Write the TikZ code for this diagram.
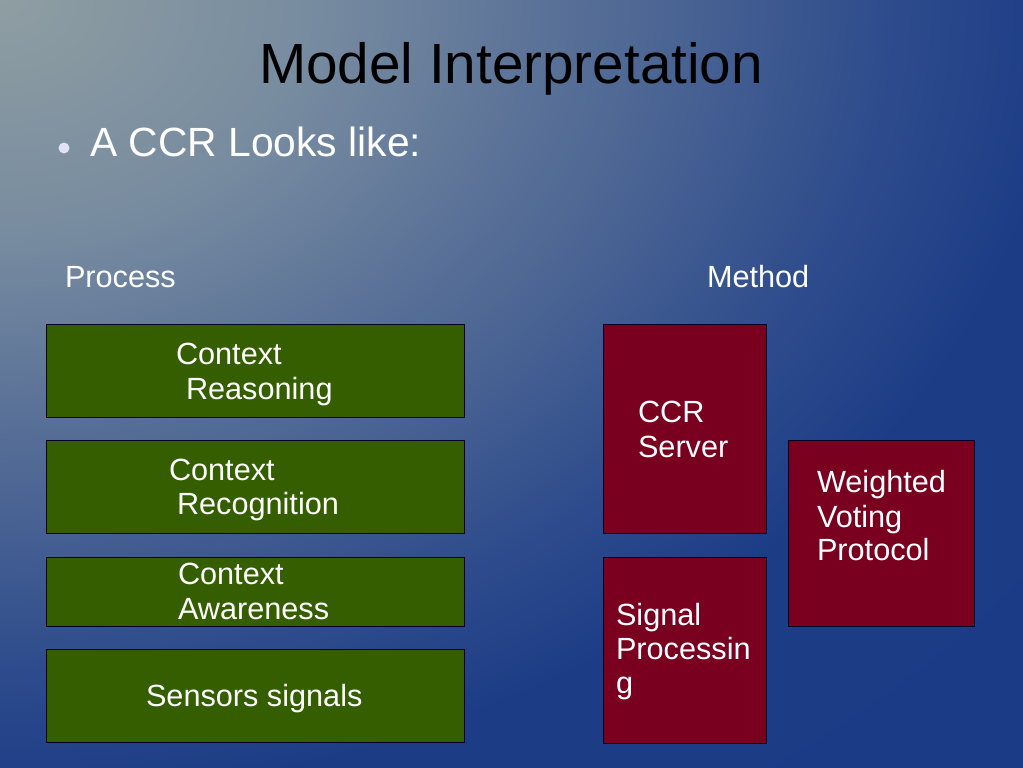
\documentclass[tikz,border=0pt]{standalone}
\usepackage{fontspec}
\setmainfont{Liberation Sans}
\usetikzlibrary{fit}
\definecolor{bgA}{RGB}{143,158,162}
\definecolor{bgB}{RGB}{120,140,160}
\definecolor{bgC}{RGB}{78,103,148}
\definecolor{bgD}{RGB}{45,75,140}
\definecolor{bgE}{RGB}{28,60,134}
\definecolor{bgF}{RGB}{24,56,132}
\definecolor{boxgreen}{RGB}{52,94,0}
\definecolor{boxred}{RGB}{122,0,32}
\definecolor{bulletcol}{RGB}{225,225,245}
\pgfdeclareradialshading{bgshade}{\pgfpoint{0bp}{0bp}}{color(0bp)=(bgA); color(5.5bp)=(bgB); color(11.5bp)=(bgC); color(16bp)=(bgD); color(19bp)=(bgE); color(50bp)=(bgF)}
\tikzset{
  gbox/.style={draw=black!85!blue, line width=0.7pt, fill=boxgreen, inner sep=0pt, outer sep=0pt},
  rbox/.style={draw=black!85!blue, line width=0.7pt, fill=boxred, inner sep=0pt, outer sep=0pt},
  lbl/.style={anchor=base west, inner sep=0pt, outer sep=0pt, text=white, font=\fontsize{23}{26}\selectfont},
}
\begin{document}
\begin{tikzpicture}[x=0.75pt, y=-0.75pt]
\useasboundingbox (0,0) rectangle (1023,767);
\begin{scope}
  \clip (0,0) rectangle (1023,767);
  \fill[shading=bgshade] (-1400,-1050) rectangle (1400,1050);
\end{scope}
% title and bullet
\node[anchor=base, inner sep=0pt, font=\fontsize{42.5}{48}\selectfont, text=black] (title) at (511,84) {Model Interpretation};
\fill[bulletcol] (64,148) circle (5.5) coordinate (dot);
\node[anchor=base west, inner sep=0pt, text=white, font=\fontsize{30.6}{35}\selectfont] (bullet) at (90,156) {A CCR Looks like:};
\node[lbl] (process) at (65,287) {Process};
\node[lbl] (method) at (707,287) {Method};
% green boxes
\node[gbox, fit={(46,324) (464,417)}] (reason) {};
\node[gbox, fit={(46,440) (464,533)}] (recog) {};
\node[gbox, fit={(46,557) (464,626)}] (aware) {};
\node[gbox, fit={(46,649) (464,742)}] (sensors) {};
% red boxes
\node[rbox, fit={(603,324) (766,533)}] (ccr) {};
\node[rbox, fit={(603,557) (766,743)}] (signal) {};
\node[rbox, fit={(788,440) (974,626)}] (voting) {};
% texts
\node[lbl] (t1a) at (176,364) {Context};
\node[lbl] (t1b) at (186,399) {Reasoning};
\node[lbl] (t2a) at (169,480) {Context};
\node[lbl] (t2b) at (177,514) {Recognition};
\node[lbl] (t3a) at (178,584) {Context};
\node[lbl] (t3b) at (178,619) {Awareness};
\node[lbl] (t4) at (146,706) {Sensors signals};
\node[lbl] (c1) at (638,422) {CCR};
\node[lbl] (c2) at (638,457) {Server};
\node[lbl] (s1) at (616,625) {Signal};
\node[lbl] (s2) at (616,659) {Processin};
\node[lbl] (s3) at (616,693) {g};
\node[lbl] (w1) at (817,492) {Weighted};
\node[lbl] (w2) at (817,527) {Voting};
\node[lbl] (w3) at (817,560) {Protocol};
\end{tikzpicture}
\end{document}
